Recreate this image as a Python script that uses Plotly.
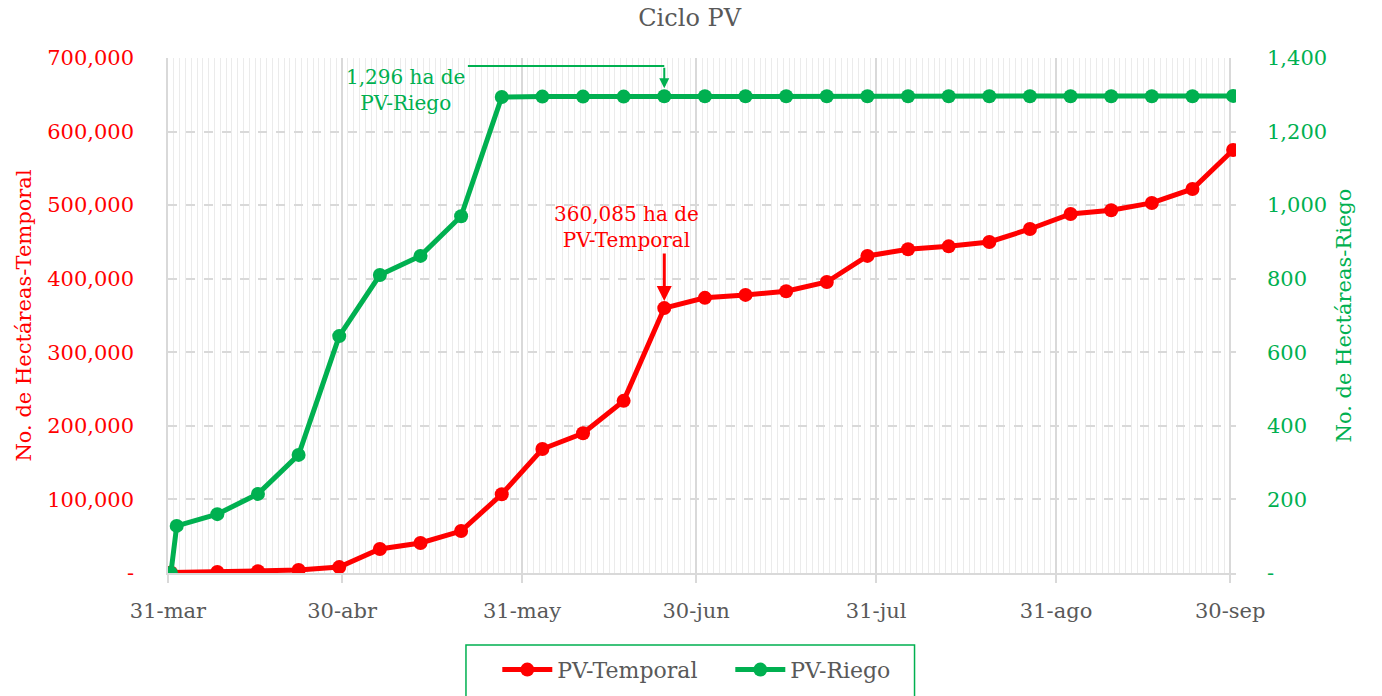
import plotly.graph_objects as go

# ---- data ----
temporal_dates = ["2023-03-31 12:00", "2023-04-08 12:00", "2023-04-15 12:00", "2023-04-22 12:00", "2023-04-29 12:00",
                  "2023-05-06 12:00", "2023-05-13 12:00", "2023-05-20 12:00", "2023-05-27 12:00", "2023-06-03 12:00",
                  "2023-06-10 12:00", "2023-06-17 12:00", "2023-06-24 12:00", "2023-07-01 12:00", "2023-07-08 12:00",
                  "2023-07-15 12:00", "2023-07-22 12:00", "2023-07-29 12:00", "2023-08-05 12:00", "2023-08-12 12:00",
                  "2023-08-19 12:00", "2023-08-26 12:00", "2023-09-02 12:00", "2023-09-09 12:00", "2023-09-16 12:00",
                  "2023-09-23 12:00", "2023-09-30 12:00"]
temporal_values = [600, 1500, 2500, 4000, 8000, 32600, 40800, 57000, 107000, 168500, 190000, 234000, 360085,
                   374000, 378000, 383000, 395500, 431000, 440000, 444000, 450000, 467600, 488000, 493000,
                   503000, 522000, 575000]

riego_dates = ["2023-03-31 12:00", "2023-04-01 12:00", "2023-04-08 12:00", "2023-04-15 12:00", "2023-04-22 12:00",
               "2023-04-29 12:00", "2023-05-06 12:00", "2023-05-13 12:00", "2023-05-20 12:00", "2023-05-27 12:00",
               "2023-06-03 12:00", "2023-06-10 12:00", "2023-06-17 12:00", "2023-06-24 12:00", "2023-07-01 12:00",
               "2023-07-08 12:00", "2023-07-15 12:00", "2023-07-22 12:00", "2023-07-29 12:00", "2023-08-05 12:00",
               "2023-08-12 12:00", "2023-08-19 12:00", "2023-08-26 12:00", "2023-09-02 12:00", "2023-09-09 12:00",
               "2023-09-16 12:00", "2023-09-23 12:00", "2023-09-30 12:00"]
riego_values = [0, 128, 160, 215, 321, 644, 810, 862, 970, 1294, 1295, 1295, 1295, 1296, 1296, 1296, 1296,
                1296, 1296, 1296, 1296, 1296, 1296, 1296, 1296, 1296, 1296, 1297]

x_tick_vals = ["2023-03-31", "2023-04-30", "2023-05-31", "2023-06-30", "2023-07-31", "2023-08-31", "2023-09-30"]
x_tick_text = ["31-mar", "30-abr", "31-may", "30-jun", "31-jul", "31-ago", "30-sep"]
y1_tick_vals = [0, 100000, 200000, 300000, 400000, 500000, 600000, 700000]
y1_tick_text = ["-", "100,000", "200,000", "300,000", "400,000", "500,000", "600,000", "700,000"]
y2_tick_vals = [0, 200, 400, 600, 800, 1000, 1200, 1400]
y2_tick_text = ["-", "200", "400", "600", "800", "1,000", "1,200", "1,400"]

RED = "#FF0000"
GREEN = "#00B050"
GRAY = "#595959"
GRID = "#d9d9d9"
FONT = "DejaVu Serif"

fig = go.Figure()
fig.add_trace(go.Scatter(x=temporal_dates, y=temporal_values, name="PV-Temporal", mode="lines+markers",
                         line=dict(color=RED, width=5), marker=dict(color=RED, size=14)))
fig.add_trace(go.Scatter(x=riego_dates, y=riego_values, name="PV-Riego", mode="lines+markers", yaxis="y2",
                         line=dict(color=GREEN, width=5), marker=dict(color=GREEN, size=14)))

# annotations
i_t = 12
fig.add_annotation(x=temporal_dates[i_t], y=temporal_values[i_t], xref="x", yref="y", text="",
                   showarrow=True, ax=0, ay=-56, arrowhead=2, arrowsize=1, arrowwidth=3, arrowcolor=RED, standoff=7)
fig.add_annotation(x="2023-06-18 00:00", y=433000, xref="x", yref="y",
                   text=f"{temporal_values[i_t]:,} ha de<br>PV-Temporal", showarrow=False,
                   font=dict(family=FONT, size=20, color=RED), align="center", yanchor="bottom")

i_r = 13
fig.add_annotation(x=riego_dates[i_r], y=riego_values[i_r], xref="x", yref="y2", text="",
                   showarrow=True, ax=0, ay=-30, arrowhead=2, arrowsize=1, arrowwidth=2, arrowcolor=GREEN, standoff=8)
fig.add_shape(type="line", xref="x", yref="y2", x0="2023-05-21 16:00", x1=riego_dates[i_r], y0=1378, y1=1378,
              line=dict(color=GREEN, width=2))
fig.add_annotation(x="2023-05-10 20:00", y=1313, xref="x", yref="y2",
                   text=f"{riego_values[i_r]:,} ha de<br>PV-Riego", showarrow=False,
                   font=dict(family=FONT, size=20, color=GREEN), align="center")

# legend box
fig.add_shape(type="rect", xref="paper", yref="paper", x0=0.279, x1=0.699, y0=-0.1398, y1=-0.26,
              line=dict(color=GREEN, width=1.5), fillcolor="rgba(0,0,0,0)")

fig.update_layout(
    width=1382, height=696,
    margin=dict(l=168, r=146, t=58, b=123, autoexpand=False),
    paper_bgcolor="white", plot_bgcolor="white",
    font=dict(family=FONT, size=21, color=GRAY),
    title=dict(text="Ciclo PV", x=0.499, y=0.974, xanchor="center", yanchor="middle",
               font=dict(family=FONT, size=24, color=GRAY)),
    showlegend=True,
    legend=dict(orientation="h", x=0.5265, xanchor="center", y=-0.188, yanchor="middle",
                font=dict(family=FONT, size=22, color=GRAY), bgcolor="rgba(0,0,0,0)", itemwidth=50,
                entrywidth=168, entrywidthmode="pixels"),
    xaxis=dict(type="date", range=["2023-03-31", "2023-10-01"], tickvals=x_tick_vals, ticktext=x_tick_text,
               showgrid=True, gridcolor=GRID, gridwidth=1.5, showline=True, linecolor=GRID, linewidth=1.5,
               ticks="outside", ticklen=8, tickcolor=GRID, tickwidth=1.5, ticklabelstandoff=10,
               tickfont=dict(family=FONT, size=21, color=GRAY),
               minor=dict(dtick=86400000, tick0="2023-03-31", showgrid=True, gridcolor="#ebebeb", gridwidth=1),
               zeroline=False),
    yaxis=dict(range=[0, 700000], tickvals=y1_tick_vals, ticktext=y1_tick_text,
               showgrid=True, gridcolor=GRID, gridwidth=1.5, griddash="dash",
               showline=True, linecolor=GRID, linewidth=1.5, zeroline=False,
               ticks="", ticklabelstandoff=28,
               tickfont=dict(family=FONT, size=21, color=RED),
               title=dict(text="No. de Hectáreas-Temporal", font=dict(family=FONT, size=21, color=RED), standoff=10)),
    yaxis2=dict(range=[0, 1400], tickvals=y2_tick_vals, ticktext=y2_tick_text, overlaying="y", side="right",
                showgrid=False, zeroline=False, showline=False, ticks="", ticklabelstandoff=30,
                tickfont=dict(family=FONT, size=21, color=GREEN),
                title=dict(text="No. de Hectáreas-Riego", font=dict(family=FONT, size=21, color=GREEN), standoff=10)),
)

fig.write_html("out.html", config={"displayModeBar": False},
               post_script="document.body.style.margin='0';document.body.style.overflow='hidden';")
